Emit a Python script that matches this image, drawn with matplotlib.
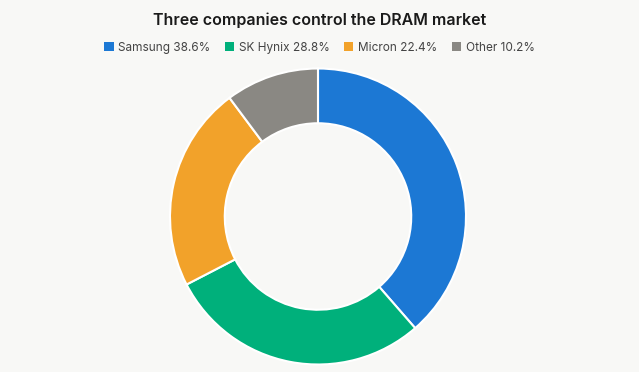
import matplotlib
matplotlib.use("Agg")
import matplotlib.pyplot as plt
from matplotlib.patches import Patch

# veri
companies = ["Samsung", "SK Hynix", "Micron", "Other"]
shares = [38.6, 28.8, 22.4, 10.2]
colors = ["#1c78d4", "#00b07b", "#f2a22a", "#8a8883"]

bg = "#f8f8f6"
plt.rcParams["font.family"] = ["Inter", "DejaVu Sans"]

fig = plt.figure(figsize=(6.39, 3.72), dpi=100, facecolor=bg)

# donut alani: merkez ~(318, 216) px, yaricap ~148 px
ax = fig.add_axes([170 / 639, (372 - 216.5 - 148) / 372, 296 / 639, 296 / 372])
ax.set_facecolor(bg)
ax.pie(shares, colors=colors, startangle=90, counterclock=False, radius=1,
       wedgeprops=dict(width=0.37, edgecolor="white", linewidth=1.5))
ax.set_xlim(-1.0, 1.0)
ax.set_ylim(-1.0, 1.0)
ax.set_aspect("equal")
ax.axis("off")

fig.text(0.5, 1 - 20 / 372, "Three companies control the DRAM market",
         ha="center", va="center", fontsize=11.5, fontweight="semibold", color="#1a1a1a")

handles = [Patch(facecolor=c, edgecolor="none", label=f"{n} {s}%")
           for n, s, c in zip(companies, shares, colors)]
fig.legend(handles=handles, loc="center", bbox_to_anchor=(0.5, 1 - 48 / 372), ncol=4,
           frameon=False, fontsize=8.5, handlelength=0.8, handleheight=0.8,
           handletextpad=0.4, columnspacing=1.2, labelcolor="#444444")

fig.savefig("out.png", dpi=100, facecolor=bg)
